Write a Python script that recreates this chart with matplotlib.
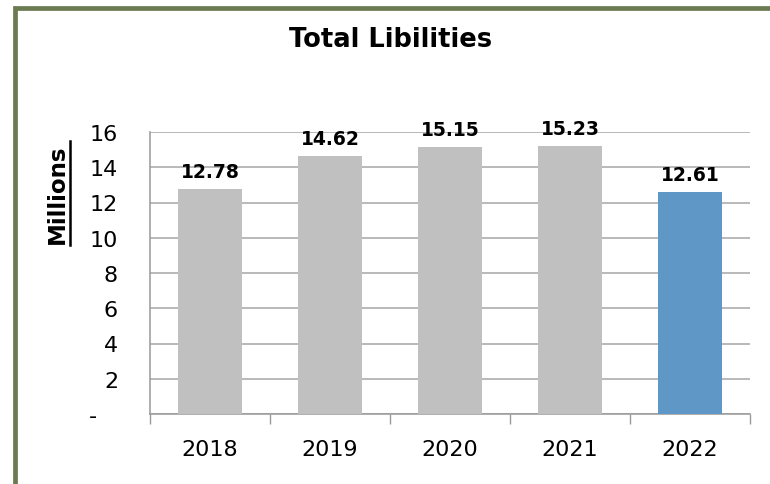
import matplotlib.pyplot as plt
import matplotlib.patches as patches
import numpy as np

# DATA
years = ["2018", "2019", "2020", "2021", "2022"]
liabilities = [12.78, 14.62, 15.15, 15.23, 12.61]
bar_colors = ["#c0c0c0", "#c0c0c0", "#c0c0c0", "#c0c0c0", "#5f98c6"]
y_ticks = [0, 2, 4, 6, 8, 10, 12, 14, 16]
y_tick_labels = ["-   ", "2", "4", "6", "8", "10", "12", "14", "16"]

fig = plt.figure(figsize=(7.7, 4.85), dpi=100)

# olive frame around the chart
frame = patches.Rectangle((14.5 / 770, -0.05), 1.2, (485 - 8.5) / 485 + 0.05,
                          transform=fig.transFigure, fill=False,
                          edgecolor="#6b7a50", linewidth=3.4, zorder=0)
fig.patches.append(frame)

ax = fig.add_axes([150 / 770, 70 / 485, 600 / 770, 282 / 485])

x = np.arange(len(years))
bars = ax.bar(x, liabilities, width=0.53, color=bar_colors, zorder=3)

for xi, v in zip(x, liabilities):
    ax.text(xi, v + 0.45, f"{v:.2f}", ha="center", va="bottom",
            fontsize=13.5, fontweight="bold", zorder=4)

ax.set_xlim(-0.5, len(years) - 0.5)
ax.set_ylim(0, 16)
ax.set_yticks(y_ticks)
ax.set_yticklabels(y_tick_labels, fontsize=16)
ax.set_xticks(x)
ax.set_xticklabels(years, fontsize=16)
ax.set_xticks(np.arange(-0.5, len(years)), minor=True)
ax.tick_params(axis="x", which="major", length=0, pad=18)
ax.tick_params(axis="x", which="minor", length=7, color="#999999", width=1)
ax.tick_params(axis="y", length=0, pad=23)

ax.grid(axis="y", color="#a6a6a6", linewidth=1.1, zorder=0)
for side in ["top", "right"]:
    ax.spines[side].set_visible(False)
for side in ["left", "bottom"]:
    ax.spines[side].set_color("#999999")
    ax.spines[side].set_linewidth(1.1)

fig.text(391 / 770, 1 - 40 / 485, "Total Libilities", ha="center", va="center",
         fontsize=18.5, fontweight="bold")
fig.text(57 / 770, 1 - 194 / 485, "Millions", ha="center", va="center",
         rotation=90, fontsize=16.5, fontweight="bold")
# underline of the rotated label
fig.add_artist(plt.Line2D([70 / 770, 70 / 770], [1 - 246 / 485, 1 - 142 / 485],
                          transform=fig.transFigure, color="black", linewidth=1.8))

fig.savefig("out.png", dpi=100)
